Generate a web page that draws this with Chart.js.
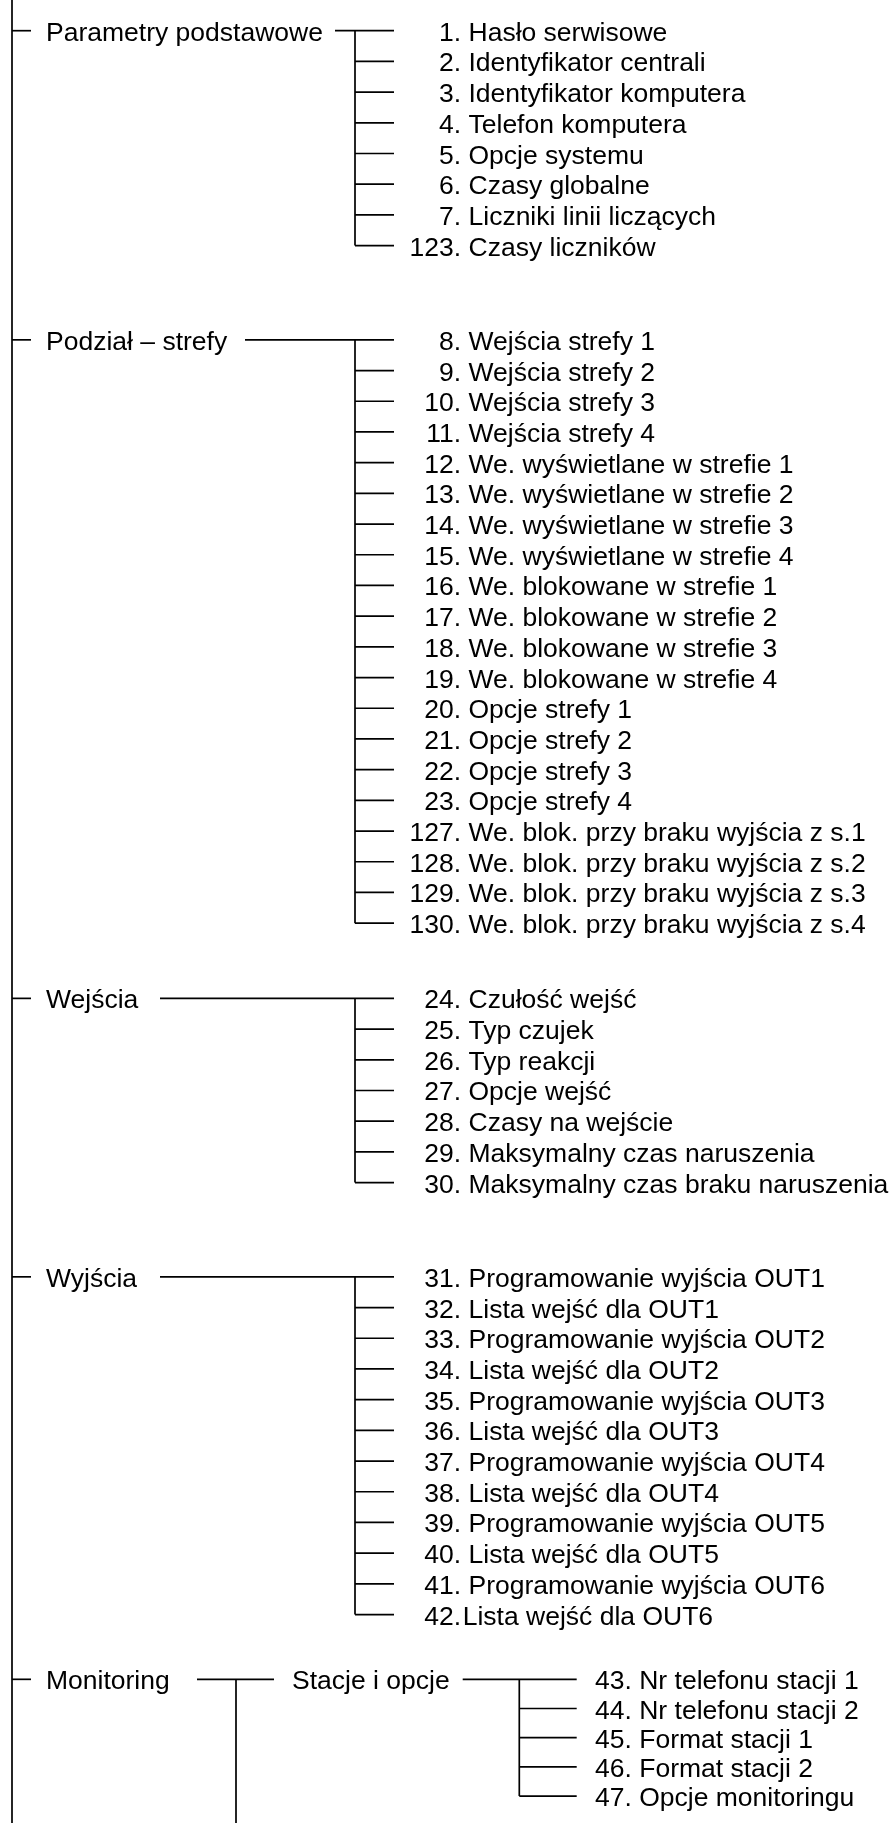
<!DOCTYPE html>
<html>
<head>
<meta charset="utf-8">
<script src="https://cdn.jsdelivr.net/npm/chart.js@4.4.1/dist/chart.umd.min.js"></script>
<style>
html, body { margin: 0; padding: 0; background: #fff; }
canvas { display: block; }
</style>
</head>
<body>
<canvas id="tree" width="893" height="1823"></canvas>
<script>
// tree content
const categories = ['Parametry podstawowe', 'Podział – strefy', 'Wejścia', 'Wyjścia', 'Monitoring'];
const paramItems = ['1. Hasło serwisowe', '2. Identyfikator centrali', '3. Identyfikator komputera',
     '4. Telefon komputera', '5. Opcje systemu', '6. Czasy globalne', '7. Liczniki linii liczących',
     '123. Czasy liczników'];
const strefyItems = ['8. Wejścia strefy 1', '9. Wejścia strefy 2', '10. Wejścia strefy 3', '11. Wejścia strefy 4',
     '12. We. wyświetlane w strefie 1', '13. We. wyświetlane w strefie 2', '14. We. wyświetlane w strefie 3',
     '15. We. wyświetlane w strefie 4', '16. We. blokowane w strefie 1', '17. We. blokowane w strefie 2',
     '18. We. blokowane w strefie 3', '19. We. blokowane w strefie 4', '20. Opcje strefy 1', '21. Opcje strefy 2',
     '22. Opcje strefy 3', '23. Opcje strefy 4', '127. We. blok. przy braku wyjścia z s.1',
     '128. We. blok. przy braku wyjścia z s.2', '129. We. blok. przy braku wyjścia z s.3',
     '130. We. blok. przy braku wyjścia z s.4'];
const wejsciaItems = ['24. Czułość wejść', '25. Typ czujek', '26. Typ reakcji', '27. Opcje wejść',
     '28. Czasy na wejście', '29. Maksymalny czas naruszenia', '30. Maksymalny czas braku naruszenia'];
const wyjsciaItems = ['31. Programowanie wyjścia OUT1', '32. Lista wejść dla OUT1', '33. Programowanie wyjścia OUT2',
     '34. Lista wejść dla OUT2', '35. Programowanie wyjścia OUT3', '36. Lista wejść dla OUT3',
     '37. Programowanie wyjścia OUT4', '38. Lista wejść dla OUT4', '39. Programowanie wyjścia OUT5',
     '40. Lista wejść dla OUT5', '41. Programowanie wyjścia OUT6', '42.Lista wejść dla OUT6'];
const monitoringSub = 'Stacje i opcje';
const stacjeItems = ['43. Nr telefonu stacji 1', '44. Nr telefonu stacji 2', '45. Format stacji 1',
     '46. Format stacji 2', '47. Opcje monitoringu'];

// layout (row units on y, pixels on x)
const categoryRows = [0, 10.07, 31.52, 40.59, 53.7];
const connectorStart = [335, 245, 160, 160, 197];
const groups = [paramItems, strefyItems, wejsciaItems, wyjsciaItems];
const stacjeStep = 0.951;
const yTop = -1, yBottom = 58.38;
const FONT = '26.5px "Liberation Sans", Arial, sans-serif';

function seg(x1, r1, x2, r2) {
     return {
          data: [{ x: x1, y: r1 }, { x: x2, y: r2 }],
          showLine: true, borderColor: '#000', borderWidth: 1.7,
          pointRadius: 0, borderCapStyle: 'butt', fill: false
     };
}

var datasets = [];
// trunk
datasets.push(seg(12, yTop, 12, yBottom));
categoryRows.forEach(function (r) { datasets.push(seg(12, r, 31, r)); });
groups.forEach(function (items, g) {
     var r0 = categoryRows[g];
     var rEnd = r0 + items.length - 1;
     datasets.push(seg(connectorStart[g], r0, 394, r0));
     datasets.push(seg(355, r0, 355, rEnd));
     for (var i = 1; i < items.length; i++) {
          datasets.push(seg(355, r0 + i, 394, r0 + i));
     }
});
// monitoring branch
var rm = categoryRows[4];
datasets.push(seg(connectorStart[4], rm, 274, rm));
datasets.push(seg(236, rm, 236, yBottom));
datasets.push(seg(462.7, rm, 576.7, rm));
datasets.push(seg(519.3, rm, 519.3, rm + (stacjeItems.length - 1) * stacjeStep));
for (var k = 1; k < stacjeItems.length; k++) {
     datasets.push(seg(519.3, rm + k * stacjeStep, 576.7, rm + k * stacjeStep));
}

const treeText = {
     id: 'treeText',
     afterDatasetsDraw(chart) {
          const ctx = chart.ctx;
          const xs = chart.scales.x, ys = chart.scales.y;
          const base = function (r) { return ys.getPixelForValue(r) + 10; };
          ctx.save();
          ctx.font = FONT;
          ctx.fillStyle = '#000';
          ctx.textBaseline = 'alphabetic';
          ctx.textAlign = 'left';
          categories.forEach(function (c, i) {
               ctx.fillText(c, xs.getPixelForValue(46), base(categoryRows[i]));
          });
          groups.forEach(function (items, g) {
               items.forEach(function (label, i) {
                    var dot = label.indexOf('.');
                    var num = label.slice(0, dot + 1);
                    var rest = label.slice(dot + 1);
                    var spaced = rest.charAt(0) === ' ';
                    var y = base(categoryRows[g] + i);
                    ctx.textAlign = 'right';
                    ctx.fillText(num, xs.getPixelForValue(461), y);
                    ctx.textAlign = 'left';
                    ctx.fillText(rest.trim(), xs.getPixelForValue(spaced ? 468.5 : 462.7), y);
               });
          });
          ctx.textAlign = 'left';
          ctx.fillText(monitoringSub, xs.getPixelForValue(292), base(rm));
          stacjeItems.forEach(function (label, i) {
               ctx.fillText(label, xs.getPixelForValue(595), base(rm + i * stacjeStep));
          });
          ctx.restore();
     }
};

new Chart(document.getElementById('tree'), {
     type: 'scatter',
     data: { datasets: datasets },
     options: {
          responsive: false,
          devicePixelRatio: 1,
          animation: false,
          layout: { padding: 0 },
          plugins: { legend: { display: false }, tooltip: { enabled: false } },
          scales: {
               x: { type: 'linear', min: 0, max: 893, display: false },
               y: { type: 'linear', min: yTop, max: yBottom, reverse: true, display: false }
          }
     },
     plugins: [treeText]
});
</script>
</body>
</html>
